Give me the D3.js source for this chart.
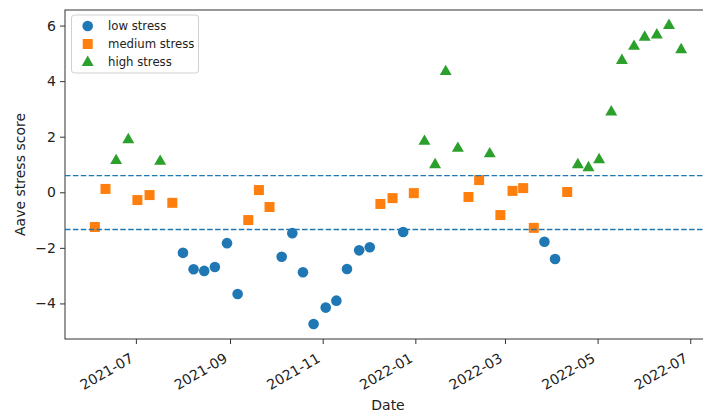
<!DOCTYPE html>
<html>
<head>
<meta charset="utf-8">
<script src="https://cdn.jsdelivr.net/npm/d3@7"></script>
<style>
  body { margin: 0; background: #fff; }
  svg { font-family: "DejaVu Sans", sans-serif; }
</style>
</head>
<body>
<div id="chart"></div>
<script>
// weekly readings
const lowDates = ["2021-08-01","2021-08-08","2021-08-15","2021-08-22","2021-08-30","2021-09-06",
  "2021-10-05","2021-10-12","2021-10-19","2021-10-26","2021-11-03","2021-11-10","2021-11-17",
  "2021-11-25","2021-12-02","2021-12-24","2022-03-27","2022-04-03"];
const lowValues = [-2.18,-2.77,-2.83,-2.69,-1.83,-3.66,-2.32,-1.47,-2.88,-4.74,-4.15,-3.90,-2.76,
  -2.09,-1.98,-1.43,-1.78,-2.40];

const mediumDates = ["2021-06-04","2021-06-11","2021-07-02","2021-07-10","2021-07-25","2021-09-13",
  "2021-09-20","2021-09-27","2021-12-09","2021-12-17","2021-12-31","2022-02-05","2022-02-12",
  "2022-02-26","2022-03-06","2022-03-13","2022-03-20","2022-04-11"];
const mediumValues = [-1.25,0.12,-0.28,-0.10,-0.38,-1.00,0.08,-0.53,-0.42,-0.21,-0.03,-0.17,0.44,
  -0.82,0.05,0.15,-1.28,0.01];

const highDates = ["2021-06-18","2021-06-26","2021-07-17","2022-01-07","2022-01-14","2022-01-21",
  "2022-01-29","2022-02-19","2022-04-18","2022-04-25","2022-05-02","2022-05-10","2022-05-17",
  "2022-05-25","2022-06-01","2022-06-09","2022-06-17","2022-06-25"];
const highValues = [1.16,1.91,1.13,1.85,1.01,4.36,1.60,1.40,1.01,0.90,1.19,2.91,4.76,5.27,5.60,
  5.68,6.02,5.15];

const thresholds = [0.60, -1.34];
const xTickLabels = ["2021-07","2021-09","2021-11","2022-01","2022-03","2022-05","2022-07"];
const yTicks = [-4, -2, 0, 2, 4, 6];

const width = 703, height = 414;
const margin = {top: 10, left: 65, bottom: 75};
const plotRight = 711;   // right spine falls just outside the picture

const svg = d3.select("#chart").append("svg")
  .attr("width", width)
  .attr("height", height);

const parse = d3.utcParse("%Y-%m-%d");
const x = d3.scaleUtc()
  .domain([new Date(Date.UTC(2021, 4, 15, 8)), new Date(Date.UTC(2022, 6, 14, 16))])
  .range([margin.left, plotRight]);
const y = d3.scaleLinear()
  .domain([-5.28, 6.56])
  .range([height - margin.bottom, margin.top]);

const bottom = height - margin.bottom;

// spines
svg.append("rect")
  .attr("x", margin.left).attr("y", margin.top)
  .attr("width", plotRight - margin.left).attr("height", bottom - margin.top)
  .attr("fill", "none").attr("stroke", "#333").attr("stroke-width", 1);

// y axis
const yAxis = svg.append("g")
  .attr("transform", "translate(" + margin.left + ",0)")
  .call(d3.axisLeft(y).tickValues(yTicks).tickSize(5).tickPadding(4)
    .tickFormat(d => d3.format("d")(d).replace("-", "\u2212")));
yAxis.select(".domain").remove();
yAxis.selectAll("line").attr("stroke", "#333");
yAxis.selectAll("text").style("font-size", "14px").attr("fill", "#222")
  .style("font-family", "DejaVu Sans");

// x axis
const xTickDates = xTickLabels.map(s => parse(s + "-01"));
const xAxis = svg.append("g")
  .attr("transform", "translate(0," + bottom + ")")
  .call(d3.axisBottom(x).tickValues(xTickDates).tickSize(5)
    .tickFormat(d3.utcFormat("%Y-%m")));
xAxis.select(".domain").remove();
xAxis.selectAll("line").attr("stroke", "#333");
xAxis.selectAll("text")
  .style("font-size", "14px").attr("fill", "#222").style("font-family", "DejaVu Sans")
  .attr("text-anchor", "end")
  .attr("y", 0).attr("dy", 0)
  .attr("transform", "translate(-2,22) rotate(-30)");

// axis titles
svg.append("text")
  .attr("x", (margin.left + plotRight) / 2).attr("y", 410)
  .attr("text-anchor", "middle").style("font-size", "14px").attr("fill", "#222")
  .text("Date");
svg.append("text")
  .attr("transform", "translate(25," + ((margin.top + bottom) / 2) + ") rotate(-90)")
  .attr("text-anchor", "middle").style("font-size", "14px").attr("fill", "#222")
  .text("Aave stress score");

const plot = svg.append("g");

const colors = {low: "#1f77b4", medium: "#ff7f0e", high: "#2ca02c"};
const triangle = d3.symbol().type(d3.symbolTriangle).size(62);

plot.selectAll(".low")
  .data(lowDates.map((d, i) => ({date: parse(d), v: lowValues[i]})))
  .enter().append("circle")
  .attr("cx", d => x(d.date)).attr("cy", d => y(d.v))
  .attr("r", 5.3).attr("fill", colors.low);

plot.selectAll(".medium")
  .data(mediumDates.map((d, i) => ({date: parse(d), v: mediumValues[i]})))
  .enter().append("rect")
  .attr("x", d => x(d.date) - 5).attr("y", d => y(d.v) - 5)
  .attr("width", 10).attr("height", 10).attr("fill", colors.medium);

plot.selectAll(".high")
  .data(highDates.map((d, i) => ({date: parse(d), v: highValues[i]})))
  .enter().append("path")
  .attr("d", triangle)
  .attr("transform", d => "translate(" + x(d.date) + "," + (y(d.v) + 0.5) + ")")
  .attr("fill", colors.high);

// threshold lines
svg.selectAll(".thr")
  .data(thresholds).enter().append("line")
  .attr("x1", margin.left).attr("x2", plotRight)
  .attr("y1", d => y(d)).attr("y2", d => y(d))
  .attr("stroke", colors.low).attr("stroke-width", 1.3)
  .attr("stroke-dasharray", "5.5,2.4");

// Handmade legend
const legend = svg.append("g");
legend.append("rect")
  .attr("x", 71.5).attr("y", 15).attr("width", 127).attr("height", 58)
  .attr("rx", 3).attr("fill", "white").attr("fill-opacity", 0.8)
  .attr("stroke", "#d0d0d0").attr("stroke-width", 1);
legend.append("circle").attr("cx", 87.7).attr("cy", 26).attr("r", 5.3).attr("fill", colors.low);
legend.append("rect").attr("x", 82.7).attr("y", 39).attr("width", 10).attr("height", 10)
  .attr("fill", colors.medium);
legend.append("path").attr("d", triangle)
  .attr("transform", "translate(87.7,62.5)").attr("fill", colors.high);
const legendNames = ["low stress", "medium stress", "high stress"];
legend.selectAll(".lt").data(legendNames).enter().append("text")
  .attr("x", 108).attr("y", (d, i) => 26 + i * 18)
  .attr("dy", "0.35em")
  .style("font-size", "11.7px").attr("fill", "#222")
  .text(d => d);
</script>
</body>
</html>
